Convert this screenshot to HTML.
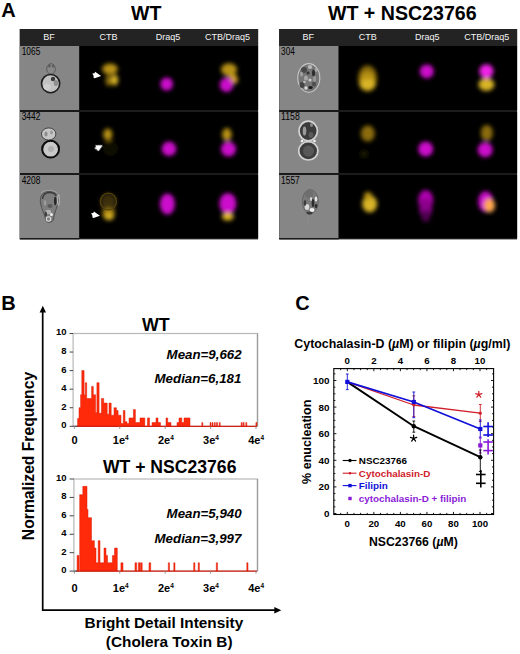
<!DOCTYPE html>
<html><head><meta charset="utf-8"><style>
html,body{margin:0;padding:0;background:#fff;}
svg{display:block;font-family:"Liberation Sans", sans-serif;}
</style></head><body>
<svg width="520" height="654" viewBox="0 0 520 654">
<defs>
<filter id="blur" x="-50%" y="-50%" width="200%" height="200%"><feGaussianBlur stdDeviation="1.9"/></filter>
<filter id="blur3" x="-50%" y="-50%" width="200%" height="200%"><feGaussianBlur stdDeviation="0.45"/></filter>
<filter id="blur2" x="-50%" y="-50%" width="200%" height="200%"><feGaussianBlur stdDeviation="0.7"/></filter>
</defs>
<rect width="520" height="654" fill="#fff"/>
<text x="1.2" y="17.3" font-size="20" font-weight="bold" font-style="normal" text-anchor="start" fill="#000" >A</text>
<text x="146.2" y="20.2" font-size="19.5" font-weight="bold" font-style="normal" text-anchor="middle" fill="#000" >WT</text>
<text x="402.3" y="20.2" font-size="19.6" font-weight="bold" font-style="normal" text-anchor="middle" fill="#000" >WT + NSC23766</text>
<rect x="19.8" y="29" width="238.3" height="210.4" fill="#1c1c1c"/>
<rect x="19.8" y="46" width="59.58" height="193.4" fill="#1a1a1a"/>
<rect x="19.8" y="29" width="238.3" height="17" fill="#232323"/>
<text x="48.89" y="40.3" font-size="9.0" font-weight="normal" font-style="normal" text-anchor="middle" fill="#f4f4f4" >BF</text>
<text x="108.46" y="40.3" font-size="9.0" font-weight="normal" font-style="normal" text-anchor="middle" fill="#f4f4f4" >CTB</text>
<text x="168.04" y="40.3" font-size="9.0" font-weight="normal" font-style="normal" text-anchor="middle" fill="#f4f4f4" >Draq5</text>
<text x="227.61" y="40.3" font-size="9.0" font-weight="normal" font-style="normal" text-anchor="middle" fill="#f4f4f4" >CTB/Draq5</text>
<rect x="19.8" y="46" width="59.58" height="64" fill="#868686"/>
<rect x="79.38" y="46" width="178.73" height="64" fill="#000"/>
<text x="21.7" y="55.2" font-size="10" font-weight="normal" font-style="normal" text-anchor="start" fill="#000" textLength="18.6" lengthAdjust="spacingAndGlyphs">1065</text>
<rect x="19.8" y="112" width="59.58" height="61" fill="#868686"/>
<rect x="79.38" y="112" width="178.73" height="61" fill="#000"/>
<text x="21.7" y="120.0" font-size="10" font-weight="normal" font-style="normal" text-anchor="start" fill="#000" textLength="18.6" lengthAdjust="spacingAndGlyphs">3442</text>
<rect x="19.8" y="175" width="59.58" height="63" fill="#868686"/>
<rect x="79.38" y="175" width="178.73" height="63" fill="#000"/>
<text x="21.7" y="183.5" font-size="10" font-weight="normal" font-style="normal" text-anchor="start" fill="#000" textLength="18.6" lengthAdjust="spacingAndGlyphs">4208</text>
<rect x="279.2" y="29" width="237.90000000000003" height="210.4" fill="#1c1c1c"/>
<rect x="279.2" y="46" width="59.48" height="193.4" fill="#1a1a1a"/>
<rect x="279.2" y="29" width="237.90000000000003" height="17" fill="#232323"/>
<text x="308.24" y="40.3" font-size="9.0" font-weight="normal" font-style="normal" text-anchor="middle" fill="#f4f4f4" >BF</text>
<text x="367.71" y="40.3" font-size="9.0" font-weight="normal" font-style="normal" text-anchor="middle" fill="#f4f4f4" >CTB</text>
<text x="427.19" y="40.3" font-size="9.0" font-weight="normal" font-style="normal" text-anchor="middle" fill="#f4f4f4" >Draq5</text>
<text x="486.66" y="40.3" font-size="9.0" font-weight="normal" font-style="normal" text-anchor="middle" fill="#f4f4f4" >CTB/Draq5</text>
<rect x="279.2" y="46" width="59.48" height="64" fill="#868686"/>
<rect x="338.68" y="46" width="178.43" height="64" fill="#000"/>
<text x="281.09999999999997" y="55.2" font-size="10" font-weight="normal" font-style="normal" text-anchor="start" fill="#000" textLength="13.8" lengthAdjust="spacingAndGlyphs">304</text>
<rect x="279.2" y="112" width="59.48" height="61" fill="#868686"/>
<rect x="338.68" y="112" width="178.43" height="61" fill="#000"/>
<text x="281.09999999999997" y="120.0" font-size="10" font-weight="normal" font-style="normal" text-anchor="start" fill="#000" textLength="18.6" lengthAdjust="spacingAndGlyphs">1158</text>
<rect x="279.2" y="175" width="59.48" height="63" fill="#868686"/>
<rect x="338.68" y="175" width="178.43" height="63" fill="#000"/>
<text x="281.09999999999997" y="183.5" font-size="10" font-weight="normal" font-style="normal" text-anchor="start" fill="#000" textLength="18.6" lengthAdjust="spacingAndGlyphs">1557</text>
<g filter="url(#blur)">
<ellipse cx="110.5" cy="148.5" rx="7.5" ry="7.5" fill="#0e0e06"/>
<ellipse cx="108.4" cy="201.5" rx="8.3" ry="8.6" fill="#3a2e08"/>
<ellipse cx="108.6" cy="208.5" rx="6.5" ry="4.5" fill="#4a3a0a"/>
<ellipse cx="364" cy="154" rx="4.5" ry="4.5" fill="#141200"/>
<ellipse cx="110" cy="69" rx="7.8" ry="5.6" fill="#b89212"/>
<ellipse cx="108.8" cy="80.5" rx="3.4" ry="5.5" fill="#8a6c08"/>
<ellipse cx="114.8" cy="80" rx="3.4" ry="5.5" fill="#d8b426"/>
<ellipse cx="166.7" cy="84" rx="6.3" ry="6.6" fill="#cc0ccc"/>
<ellipse cx="229" cy="69.5" rx="8" ry="6.3" fill="#b89212"/>
<ellipse cx="231.5" cy="75" rx="4" ry="3.5" fill="#b89212"/>
<ellipse cx="234.3" cy="79.5" rx="3.6" ry="4.2" fill="#d0a020"/>
<ellipse cx="226.5" cy="84.8" rx="6.8" ry="7.2" fill="#cc0ccc"/>
<ellipse cx="107.8" cy="134.5" rx="4.5" ry="6" fill="#b89212"/>
<ellipse cx="169" cy="148.8" rx="7.3" ry="7.3" fill="#cc0ccc"/>
<ellipse cx="226.9" cy="134.5" rx="4.8" ry="6.5" fill="#b89212"/>
<ellipse cx="228.5" cy="149" rx="7.5" ry="7.5" fill="#cc0ccc"/>
<ellipse cx="108.6" cy="214.2" rx="6.2" ry="4.8" fill="#b89212"/>
<ellipse cx="109" cy="217.3" rx="4.5" ry="2.8" fill="#d8b426"/>
<ellipse cx="167.4" cy="204" rx="7.5" ry="10.5" fill="#cc0ccc"/>
<ellipse cx="227.8" cy="203.5" rx="8.5" ry="10.5" fill="#cc0ccc"/>
<ellipse cx="227.8" cy="216.5" rx="6" ry="4" fill="#e0b828"/>
<ellipse cx="367.6" cy="78.5" rx="9.5" ry="13" fill="#8a6c08"/>
<ellipse cx="367.6" cy="79" rx="7" ry="7" fill="#b89212"/>
<ellipse cx="367.6" cy="84.5" rx="8" ry="5.5" fill="#d8b426"/>
<ellipse cx="426.8" cy="71.4" rx="7" ry="7" fill="#cc0ccc"/>
<ellipse cx="486.4" cy="84.5" rx="8" ry="6.5" fill="#d8b426"/>
<ellipse cx="486.4" cy="71.2" rx="7" ry="7" fill="#f020e8"/>
<ellipse cx="367.8" cy="133.5" rx="7" ry="8" fill="#8a6c08"/>
<ellipse cx="425.7" cy="149" rx="7.5" ry="7.5" fill="#cc0ccc"/>
<ellipse cx="486.8" cy="133" rx="6" ry="8" fill="#8a6c08"/>
<ellipse cx="485.2" cy="149.7" rx="7.5" ry="7.5" fill="#cc0ccc"/>
<ellipse cx="369.7" cy="204" rx="7.5" ry="8.5" fill="#d8b426"/>
<ellipse cx="368" cy="196" rx="4" ry="4" fill="#b89212"/>
<ellipse cx="425.7" cy="200" rx="7.5" ry="10" fill="#b000b0"/>
<ellipse cx="425.7" cy="208" rx="6.5" ry="10" fill="#8a008a"/>
<ellipse cx="425.7" cy="216" rx="4.5" ry="6" fill="#500050"/>
<ellipse cx="485.7" cy="201.7" rx="7.5" ry="10.5" fill="#cc0ccc"/>
<ellipse cx="489.5" cy="205.5" rx="5.5" ry="7" fill="#ffa850"/>
</g>
<g filter="url(#blur2)"><ellipse cx="108.4" cy="201.5" rx="8" ry="8.3" fill="none" stroke="#52420c" stroke-width="1.3"/></g>
<g transform="translate(100.8,76.1) rotate(0) scale(1.05)" filter="url(#blur3)"><path d="M0.3,0 L-5.4,-4.2 L-6.0,-2.6 L-8.1,-2.4 L-7.0,-0.6 L-6.7,1.7 L-5.8,2.0 Z" fill="#fff"/></g>
<g transform="translate(102.6,145.4) rotate(-37) scale(1.05)" filter="url(#blur3)"><path d="M0.3,0 L-5.4,-4.2 L-6.0,-2.6 L-8.1,-2.4 L-7.0,-0.6 L-6.7,1.7 L-5.8,2.0 Z" fill="#fff"/></g>
<g transform="translate(99.6,215.8) rotate(0) scale(1.05)" filter="url(#blur3)"><path d="M0.3,0 L-5.4,-4.2 L-6.0,-2.6 L-8.1,-2.4 L-7.0,-0.6 L-6.7,1.7 L-5.8,2.0 Z" fill="#fff"/></g>
<g filter="url(#blur2)"><ellipse cx="51" cy="69" rx="4.3" ry="5.3" fill="#888" stroke="#5a5a5a" stroke-width="1"/><ellipse cx="49.5" cy="66" rx="1.2" ry="1.5" fill="#555" stroke="none" stroke-width="1"/><ellipse cx="53" cy="66" rx="1.1" ry="1.5" fill="#5a5a5a" stroke="none" stroke-width="1"/><ellipse cx="50.6" cy="83.6" rx="9.1" ry="9.1" fill="#c2c2c2" stroke="#1c1c1c" stroke-width="1.6"/><ellipse cx="53" cy="79" rx="2.2" ry="2.2" fill="#3a3a3a" stroke="none" stroke-width="1"/><ellipse cx="56" cy="83" rx="2.3" ry="3" fill="#8e8e8e" stroke="none" stroke-width="1"/><ellipse cx="47" cy="87" rx="3.5" ry="3" fill="#d0d0d0" stroke="none" stroke-width="1"/><ellipse cx="48.7" cy="134" rx="7.2" ry="6.1" fill="#c6c6c6" stroke="#3a3a3a" stroke-width="0.9"/><ellipse cx="46" cy="134" rx="1.6" ry="2.5" fill="#8a8a8a" stroke="none" stroke-width="1"/><ellipse cx="51.5" cy="132.5" rx="1.4" ry="2" fill="#999" stroke="none" stroke-width="1"/><ellipse cx="50.6" cy="149.2" rx="8.4" ry="8.4" fill="#c9c9c9" stroke="#080808" stroke-width="2.0"/><ellipse cx="51" cy="149" rx="3" ry="3" fill="#b0b0b0" stroke="none" stroke-width="1"/><path d="M49,191.5 C58,191.5 59.5,199 57.5,205 C56,210 54,214 53.5,219 C53,223 46,224 45.5,219 C45,214 41.5,210 40.5,203 C39.5,196 43,191.5 49,191.5 Z" fill="#7e7e7e" stroke="#4a4a4a" stroke-width="0.9"/><path d="M42.5,199 C43,194 47,192.5 50,192.5 C53,192.5 55,194 56,196" fill="none" stroke="#3a3a3a" stroke-width="1.3"/><path d="M41,193 C44,189.5 54,189.5 57,193" fill="none" stroke="#a8a8a8" stroke-width="0.8"/><ellipse cx="55.3" cy="201" rx="1.3" ry="4.2" fill="#262626" stroke="none" stroke-width="1"/><ellipse cx="58.4" cy="200" rx="0.9" ry="5.5" fill="none" stroke="#c8c8c8" stroke-width="0.8"/><ellipse cx="48.5" cy="219" rx="2.2" ry="2.2" fill="none" stroke="#dedede" stroke-width="1.1"/><ellipse cx="48.3" cy="212" rx="2.8" ry="2.2" fill="#b4b4b4" stroke="none" stroke-width="1"/><ellipse cx="50" cy="206" rx="2.6" ry="2" fill="#5a5a5a" stroke="none" stroke-width="1"/><ellipse cx="45" cy="203" rx="1.2" ry="3" fill="#9c9c9c" stroke="none" stroke-width="1"/><ellipse cx="51.5" cy="214.5" rx="1.5" ry="1.5" fill="#f0f0f0" stroke="none" stroke-width="1"/><ellipse cx="45.8" cy="214" rx="1.2" ry="2.5" fill="#3c3c3c" stroke="none" stroke-width="1"/><ellipse cx="308.8" cy="77.9" rx="11" ry="14.3" fill="#767676" stroke="#c8c8c8" stroke-width="1.1"/><ellipse cx="304" cy="70" rx="3" ry="3" fill="#4a4a4a" stroke="none" stroke-width="1"/><ellipse cx="310" cy="67" rx="2.2" ry="2" fill="#b8b8b8" stroke="none" stroke-width="1"/><ellipse cx="313.5" cy="73" rx="1.5" ry="3.5" fill="#2e2e2e" stroke="none" stroke-width="1"/><ellipse cx="306" cy="78" rx="2" ry="2.5" fill="#a8a8a8" stroke="none" stroke-width="1"/><ellipse cx="302" cy="85" rx="2.5" ry="3" fill="#444" stroke="none" stroke-width="1"/><ellipse cx="310" cy="80" rx="1.6" ry="1.6" fill="#c8c8c8" stroke="none" stroke-width="1"/><ellipse cx="314" cy="84" rx="2" ry="2.5" fill="#4e4e4e" stroke="none" stroke-width="1"/><ellipse cx="301.5" cy="74" rx="1.5" ry="2.5" fill="#a0a0a0" stroke="none" stroke-width="1"/><ellipse cx="306" cy="88" rx="1.7" ry="1.7" fill="#d8d8d8" stroke="none" stroke-width="1"/><ellipse cx="310.5" cy="87.5" rx="2.3" ry="1.6" fill="#1a1a1a" stroke="none" stroke-width="1"/><ellipse cx="314.5" cy="79" rx="1.5" ry="3" fill="#999" stroke="none" stroke-width="1"/><ellipse cx="308" cy="73" rx="1.5" ry="1.5" fill="#333" stroke="none" stroke-width="1"/><ellipse cx="316" cy="70" rx="1.2" ry="2" fill="#aaa" stroke="none" stroke-width="1"/><ellipse cx="304.5" cy="82" rx="1.3" ry="1.3" fill="#bbb" stroke="none" stroke-width="1"/><ellipse cx="308.2" cy="131" rx="9.2" ry="9.8" fill="#3a3a3a" stroke="#d4d4d4" stroke-width="1.7"/><ellipse cx="304.5" cy="131" rx="1.8" ry="4.5" fill="#9a9a9a" stroke="none" stroke-width="1"/><ellipse cx="311.5" cy="125" rx="1.5" ry="2" fill="#8a8a8a" stroke="none" stroke-width="1"/><ellipse cx="311" cy="135" rx="2.5" ry="3" fill="#5a5a5a" stroke="none" stroke-width="1"/><ellipse cx="308.3" cy="150.8" rx="9.6" ry="9.2" fill="#3e3e3e" stroke="#d4d4d4" stroke-width="1.7"/><ellipse cx="308.5" cy="151" rx="5.5" ry="5.5" fill="#585858" stroke="none" stroke-width="1"/><ellipse cx="302" cy="141" rx="1.3" ry="1.3" fill="#f0f0f0" stroke="none" stroke-width="1"/><ellipse cx="314.5" cy="141" rx="1.3" ry="1.3" fill="#f0f0f0" stroke="none" stroke-width="1"/><ellipse cx="310.3" cy="201.5" rx="8" ry="12" fill="#7a7a7a" stroke="#5e5e5e" stroke-width="0.8"/><ellipse cx="309" cy="194" rx="4" ry="4" fill="#6e6e6e" stroke="none" stroke-width="1"/><ellipse cx="313" cy="203" rx="1.3" ry="4" fill="#2a2a2a" stroke="none" stroke-width="1"/><ellipse cx="316" cy="199" rx="1.3" ry="2.5" fill="#e8e8e8" stroke="none" stroke-width="1"/><ellipse cx="311" cy="199" rx="1" ry="2" fill="#dcdcdc" stroke="none" stroke-width="1"/><ellipse cx="307" cy="207" rx="2.3" ry="3" fill="#d8d8d8" stroke="none" stroke-width="1"/><ellipse cx="312" cy="210" rx="2.5" ry="2" fill="#f0f0f0" stroke="none" stroke-width="1"/><ellipse cx="316" cy="206" rx="1.4" ry="2" fill="#2a2a2a" stroke="none" stroke-width="1"/><ellipse cx="305" cy="203" rx="1.3" ry="3" fill="#3a3a3a" stroke="none" stroke-width="1"/><ellipse cx="309.5" cy="213" rx="3" ry="1.5" fill="#3a3a3a" stroke="none" stroke-width="1"/><path d="M307.5,214 L309,226" stroke="#8e8e8e" stroke-width="0.7"/></g>
<text x="1.3" y="310.2" font-size="20" font-weight="bold" font-style="normal" text-anchor="start" fill="#000" >B</text>
<path d="M42.7,311 L42.7,610.2 L275,610.2" fill="none" stroke="#000" stroke-width="1.7"/>
<path d="M42.8,305.8 L39.6,312.4 L46,312.4 Z" fill="#000"/>
<path d="M281.3,610.3 L274.3,607.1 L274.3,613.5 Z" fill="#000"/>
<text x="0" y="0" font-size="15.7" font-weight="bold" font-style="normal" text-anchor="middle" fill="#000" transform="translate(34.3,456) rotate(-90)">Normalized Frequency</text>
<text x="163.9" y="628" font-size="15.35" font-weight="bold" font-style="normal" text-anchor="middle" fill="#000" >Bright Detail Intensity</text>
<text x="169.2" y="647.4" font-size="15.35" font-weight="bold" font-style="normal" text-anchor="middle" fill="#000" >(Cholera Toxin B)</text>
<rect x="73.1" y="333.5" width="184.4" height="92.80000000000001" fill="none" stroke="#b8b8b8" stroke-width="1.2"/><line x1="257.5" y1="333.5" x2="257.5" y2="426.3" stroke="#9a9a9a" stroke-width="1.3"/>
<path d="M77.6,426.3 L77.6,418.41 L79,418.41 L79,407.74 L80.6,407.74 L80.6,394.75 L81.8,394.75 L81.8,370.62 L84.1,370.62 L84.1,394.75 L85.3,394.75 L85.3,382.68 L86.7,382.68 L86.7,398.46 L91.6,398.46 L91.6,386.40 L93.3,386.40 L93.3,394.75 L95.6,394.75 L95.6,412.38 L96.9,412.38 L96.9,382.68 L99.1,382.68 L99.1,413.31 L101.4,413.31 L101.4,398.46 L103.7,398.46 L103.7,403.10 L105.4,403.10 L105.4,403.10 L107.2,403.10 L107.2,414.24 L109,414.24 L109,403.10 L111.2,403.10 L111.2,415.16 L114,415.16 L114,407.74 L116.4,407.74 L116.4,410.52 L118.1,410.52 L118.1,415.16 L121,415.16 L121,423.52 L123.3,423.52 L123.3,410.52 L125,410.52 L125,421.66 L127,421.66 L127,423.52 L129,423.52 L129,417.95 L130.7,417.95 L130.7,417.95 L133.4,417.95 L133.4,409.60 L135.4,409.60 L135.4,422.59 L140,422.59 L140,417.95 L144.8,417.95 L144.8,426.3 Z" fill="#ff2a0a" stroke="#d81c08" stroke-width="0.5"/>
<path d="M147.5,426.3 L147.5,417.95 L149.5,417.95 L149.5,426.3 Z" fill="#ff2a0a" stroke="#d81c08" stroke-width="0.5"/>
<path d="M152,426.3 L152,422.59 L156,422.59 L156,417.95 L158,417.95 L158,422.59 L160.5,422.59 L160.5,426.3 Z" fill="#ff2a0a" stroke="#d81c08" stroke-width="0.5"/>
<path d="M166,426.3 L166,417.95 L167.7,417.95 L167.7,422.59 L171,422.59 L171,426.3 Z" fill="#ff2a0a" stroke="#d81c08" stroke-width="0.5"/>
<path d="M177,426.3 L177,422.59 L179,422.59 L179,417.95 L181.8,417.95 L181.8,422.59 L184,422.59 L184,417.95 L190,417.95 L190,426.3 Z" fill="#ff2a0a" stroke="#d81c08" stroke-width="0.5"/>
<path d="M201.8,426.3 L201.8,422.59 L202.8,422.59 L202.8,426.3 Z" fill="#ff2a0a" stroke="#d81c08" stroke-width="0.5"/>
<path d="M210,426.3 L210,422.59 L211,422.59 L211,426.3 Z" fill="#ff2a0a" stroke="#d81c08" stroke-width="0.5"/>
<path d="M212,426.3 L212,422.59 L213,422.59 L213,426.3 Z" fill="#ff2a0a" stroke="#d81c08" stroke-width="0.5"/>
<path d="M214.3,426.3 L214.3,422.59 L215.3,422.59 L215.3,426.3 Z" fill="#ff2a0a" stroke="#d81c08" stroke-width="0.5"/>
<path d="M216.5,426.3 L216.5,422.59 L217.5,422.59 L217.5,426.3 Z" fill="#ff2a0a" stroke="#d81c08" stroke-width="0.5"/>
<path d="M219.2,426.3 L219.2,422.59 L220.2,422.59 L220.2,426.3 Z" fill="#ff2a0a" stroke="#d81c08" stroke-width="0.5"/>
<path d="M241.2,426.3 L241.2,422.59 L242.2,422.59 L242.2,426.3 Z" fill="#ff2a0a" stroke="#d81c08" stroke-width="0.5"/>
<path d="M243.1,426.3 L243.1,422.59 L244.1,422.59 L244.1,426.3 Z" fill="#ff2a0a" stroke="#d81c08" stroke-width="0.5"/>
<path d="M245.8,426.3 L245.8,422.59 L246.8,422.59 L246.8,426.3 Z" fill="#ff2a0a" stroke="#d81c08" stroke-width="0.5"/>
<path d="M255.9,426.3 L255.9,422.59 L256.9,422.59 L256.9,426.3 Z" fill="#ff2a0a" stroke="#d81c08" stroke-width="0.5"/>
<line x1="76" y1="426.3" x2="257" y2="426.3" stroke="#d42010" stroke-width="1.2"/>
<line x1="73.1" y1="426.3" x2="77.5" y2="426.3" stroke="#555" stroke-width="1.2"/>
<line x1="69.6" y1="426.30" x2="73.1" y2="426.30" stroke="#444" stroke-width="1"/>
<text x="66.6" y="428.2" font-size="9.5" font-weight="bold" font-style="normal" text-anchor="end" fill="#000" >0</text>
<line x1="69.6" y1="407.74" x2="73.1" y2="407.74" stroke="#444" stroke-width="1"/>
<text x="66.6" y="409.64" font-size="9.5" font-weight="bold" font-style="normal" text-anchor="end" fill="#000" >2</text>
<line x1="69.6" y1="389.18" x2="73.1" y2="389.18" stroke="#444" stroke-width="1"/>
<text x="66.6" y="391.08" font-size="9.5" font-weight="bold" font-style="normal" text-anchor="end" fill="#000" >4</text>
<line x1="69.6" y1="370.62" x2="73.1" y2="370.62" stroke="#444" stroke-width="1"/>
<text x="66.6" y="372.52" font-size="9.5" font-weight="bold" font-style="normal" text-anchor="end" fill="#000" >6</text>
<line x1="69.6" y1="352.06" x2="73.1" y2="352.06" stroke="#444" stroke-width="1"/>
<text x="66.6" y="353.96" font-size="9.5" font-weight="bold" font-style="normal" text-anchor="end" fill="#000" >8</text>
<line x1="69.6" y1="333.50" x2="73.1" y2="333.50" stroke="#444" stroke-width="1"/>
<text x="66.6" y="335.4" font-size="9.5" font-weight="bold" font-style="normal" text-anchor="end" fill="#000" >10</text>
<text x="74.6" y="444.3" font-size="11" font-weight="bold" font-style="normal" text-anchor="middle" fill="#000" >0</text>
<line x1="74.40" y1="426.3" x2="74.40" y2="428.90000000000003" stroke="#888" stroke-width="0.9"/>
<text x="120.75" y="444.3" font-size="11" font-weight="bold" font-style="normal" text-anchor="middle" fill="#000" >1e<tspan font-size="6.5" dy="-4.2">4</tspan></text>
<line x1="119.80" y1="426.3" x2="119.80" y2="428.90000000000003" stroke="#888" stroke-width="0.9"/>
<text x="165.9" y="444.3" font-size="11" font-weight="bold" font-style="normal" text-anchor="middle" fill="#000" >2e<tspan font-size="6.5" dy="-4.2">4</tspan></text>
<line x1="165.20" y1="426.3" x2="165.20" y2="428.90000000000003" stroke="#888" stroke-width="0.9"/>
<text x="211.05" y="444.3" font-size="11" font-weight="bold" font-style="normal" text-anchor="middle" fill="#000" >3e<tspan font-size="6.5" dy="-4.2">4</tspan></text>
<line x1="210.60" y1="426.3" x2="210.60" y2="428.90000000000003" stroke="#888" stroke-width="0.9"/>
<text x="256.2" y="444.3" font-size="11" font-weight="bold" font-style="normal" text-anchor="middle" fill="#000" >4e<tspan font-size="6.5" dy="-4.2">4</tspan></text>
<line x1="256.00" y1="426.3" x2="256.00" y2="428.90000000000003" stroke="#888" stroke-width="0.9"/>
<text x="155.8" y="330.5" font-size="17.8" font-weight="bold" font-style="normal" text-anchor="middle" fill="#000" >WT</text>
<text x="241.6" y="358.8" font-size="13.3" font-weight="bold" font-style="italic" text-anchor="end" fill="#000" >Mean=9,662</text>
<text x="241.4" y="382.8" font-size="13.3" font-weight="bold" font-style="italic" text-anchor="end" fill="#000" >Median=6,181</text>
<rect x="73.9" y="479" width="183.6" height="92.10000000000002" fill="none" stroke="#b8b8b8" stroke-width="1.2"/><line x1="257.5" y1="479" x2="257.5" y2="571.1" stroke="#9a9a9a" stroke-width="1.3"/>
<path d="M77.1,571.1 L77.1,555.44 L79,555.44 L79,571.1 Z" fill="#ff2a0a" stroke="#d81c08" stroke-width="0.5"/>
<path d="M79.7,571.1 L79.7,494.66 L82.8,494.66 L82.8,486.37 L87,486.37 L87,509.39 L88,509.39 L88,517.68 L91.5,517.68 L91.5,540.71 L92.5,540.71 L92.5,540.71 L94.4,540.71 L94.4,548.08 L96,548.08 L96,562.81 L98.2,562.81 L98.2,540.71 L100,540.71 L100,562.81 L104,562.81 L104,548.08 L106,548.08 L106,555.44 L107.5,555.44 L107.5,562.81 L112.4,562.81 L112.4,555.44 L114.5,555.44 L114.5,548.08 L117.3,548.08 L117.3,571.1 Z" fill="#ff2a0a" stroke="#d81c08" stroke-width="0.5"/>
<path d="M120.9,571.1 L120.9,562.81 L123,562.81 L123,571.1 Z" fill="#ff2a0a" stroke="#d81c08" stroke-width="0.5"/>
<path d="M135,571.1 L135,562.81 L136.7,562.81 L136.7,571.1 Z" fill="#ff2a0a" stroke="#d81c08" stroke-width="0.5"/>
<path d="M138.4,571.1 L138.4,562.81 L140,562.81 L140,571.1 Z" fill="#ff2a0a" stroke="#d81c08" stroke-width="0.5"/>
<path d="M140.5,571.1 L140.5,562.81 L142.2,562.81 L142.2,571.1 Z" fill="#ff2a0a" stroke="#d81c08" stroke-width="0.5"/>
<path d="M149,571.1 L149,562.81 L150.7,562.81 L150.7,571.1 Z" fill="#ff2a0a" stroke="#d81c08" stroke-width="0.5"/>
<path d="M168.3,571.1 L168.3,562.81 L169.5,562.81 L169.5,571.1 Z" fill="#ff2a0a" stroke="#d81c08" stroke-width="0.5"/>
<path d="M173.8,571.1 L173.8,562.81 L175,562.81 L175,571.1 Z" fill="#ff2a0a" stroke="#d81c08" stroke-width="0.5"/>
<path d="M193.7,571.1 L193.7,562.81 L194.9,562.81 L194.9,571.1 Z" fill="#ff2a0a" stroke="#d81c08" stroke-width="0.5"/>
<path d="M198.2,571.1 L198.2,562.81 L199.4,562.81 L199.4,571.1 Z" fill="#ff2a0a" stroke="#d81c08" stroke-width="0.5"/>
<path d="M216.3,571.1 L216.3,562.81 L217.5,562.81 L217.5,571.1 Z" fill="#ff2a0a" stroke="#d81c08" stroke-width="0.5"/>
<path d="M246.8,571.1 L246.8,562.81 L248,562.81 L248,571.1 Z" fill="#ff2a0a" stroke="#d81c08" stroke-width="0.5"/>
<line x1="76" y1="571.1" x2="257" y2="571.1" stroke="#d42010" stroke-width="1.2"/>
<line x1="73.9" y1="571.1" x2="77.5" y2="571.1" stroke="#555" stroke-width="1.2"/>
<line x1="69.6" y1="571.10" x2="73.9" y2="571.10" stroke="#444" stroke-width="1"/>
<text x="66.6" y="573.0" font-size="9.5" font-weight="bold" font-style="normal" text-anchor="end" fill="#000" >0</text>
<line x1="69.6" y1="552.68" x2="73.9" y2="552.68" stroke="#444" stroke-width="1"/>
<text x="66.6" y="554.58" font-size="9.5" font-weight="bold" font-style="normal" text-anchor="end" fill="#000" >2</text>
<line x1="69.6" y1="534.26" x2="73.9" y2="534.26" stroke="#444" stroke-width="1"/>
<text x="66.6" y="536.16" font-size="9.5" font-weight="bold" font-style="normal" text-anchor="end" fill="#000" >4</text>
<line x1="69.6" y1="515.84" x2="73.9" y2="515.84" stroke="#444" stroke-width="1"/>
<text x="66.6" y="517.74" font-size="9.5" font-weight="bold" font-style="normal" text-anchor="end" fill="#000" >6</text>
<line x1="69.6" y1="497.42" x2="73.9" y2="497.42" stroke="#444" stroke-width="1"/>
<text x="66.6" y="499.32" font-size="9.5" font-weight="bold" font-style="normal" text-anchor="end" fill="#000" >8</text>
<line x1="69.6" y1="479.00" x2="73.9" y2="479.00" stroke="#444" stroke-width="1"/>
<text x="66.6" y="480.9" font-size="9.5" font-weight="bold" font-style="normal" text-anchor="end" fill="#000" >10</text>
<text x="74.6" y="592.1" font-size="11" font-weight="bold" font-style="normal" text-anchor="middle" fill="#000" >0</text>
<line x1="74.40" y1="571.1" x2="74.40" y2="573.7" stroke="#888" stroke-width="0.9"/>
<text x="120.75" y="592.1" font-size="11" font-weight="bold" font-style="normal" text-anchor="middle" fill="#000" >1e<tspan font-size="6.5" dy="-4.2">4</tspan></text>
<line x1="119.80" y1="571.1" x2="119.80" y2="573.7" stroke="#888" stroke-width="0.9"/>
<text x="165.9" y="592.1" font-size="11" font-weight="bold" font-style="normal" text-anchor="middle" fill="#000" >2e<tspan font-size="6.5" dy="-4.2">4</tspan></text>
<line x1="165.20" y1="571.1" x2="165.20" y2="573.7" stroke="#888" stroke-width="0.9"/>
<text x="211.05" y="592.1" font-size="11" font-weight="bold" font-style="normal" text-anchor="middle" fill="#000" >3e<tspan font-size="6.5" dy="-4.2">4</tspan></text>
<line x1="210.60" y1="571.1" x2="210.60" y2="573.7" stroke="#888" stroke-width="0.9"/>
<text x="256.2" y="592.1" font-size="11" font-weight="bold" font-style="normal" text-anchor="middle" fill="#000" >4e<tspan font-size="6.5" dy="-4.2">4</tspan></text>
<line x1="256.00" y1="571.1" x2="256.00" y2="573.7" stroke="#888" stroke-width="0.9"/>
<text x="169.7" y="473" font-size="17.6" font-weight="bold" font-style="normal" text-anchor="middle" fill="#000" >WT + NSC23766</text>
<text x="241.6" y="518.3" font-size="13.3" font-weight="bold" font-style="italic" text-anchor="end" fill="#000" >Mean=5,940</text>
<text x="241.4" y="543.3" font-size="13.3" font-weight="bold" font-style="italic" text-anchor="end" fill="#000" >Median=3,997</text>
<text x="295.2" y="310.2" font-size="20" font-weight="bold" font-style="normal" text-anchor="start" fill="#000" >C</text>
<text x="294.3" y="348.3" font-size="12.4" font-weight="bold" font-style="normal" text-anchor="start" fill="#000" >Cytochalasin-D (<tspan font-style="italic">µ</tspan>M) or filipin (<tspan font-style="italic">µ</tspan>g/ml)</text>
<text x="0" y="0" font-size="12.55" font-weight="bold" font-style="normal" text-anchor="middle" fill="#000" transform="translate(311.4,441.8) rotate(-90)">% enucleation</text>
<text x="413.4" y="545.8" font-size="12.25" font-weight="bold" font-style="normal" text-anchor="middle" fill="#000" >NSC23766 (<tspan font-style="italic">µ</tspan>M)</text>
<rect x="333.8" y="368.6" width="159.8" height="145.89999999999998" fill="none" stroke="#000" stroke-width="1.1"/>
<line x1="333.8" y1="513.50" x2="336.40000000000003" y2="513.50" stroke="#000" stroke-width="0.9"/>
<line x1="493.6" y1="513.50" x2="491.0" y2="513.50" stroke="#000" stroke-width="0.9"/>
<line x1="333.8" y1="506.85" x2="335.40000000000003" y2="506.85" stroke="#000" stroke-width="0.9"/>
<line x1="493.6" y1="506.85" x2="492.0" y2="506.85" stroke="#000" stroke-width="0.9"/>
<line x1="333.8" y1="500.20" x2="335.40000000000003" y2="500.20" stroke="#000" stroke-width="0.9"/>
<line x1="493.6" y1="500.20" x2="492.0" y2="500.20" stroke="#000" stroke-width="0.9"/>
<line x1="333.8" y1="493.55" x2="335.40000000000003" y2="493.55" stroke="#000" stroke-width="0.9"/>
<line x1="493.6" y1="493.55" x2="492.0" y2="493.55" stroke="#000" stroke-width="0.9"/>
<line x1="333.8" y1="486.90" x2="336.40000000000003" y2="486.90" stroke="#000" stroke-width="0.9"/>
<line x1="493.6" y1="486.90" x2="491.0" y2="486.90" stroke="#000" stroke-width="0.9"/>
<line x1="333.8" y1="480.25" x2="335.40000000000003" y2="480.25" stroke="#000" stroke-width="0.9"/>
<line x1="493.6" y1="480.25" x2="492.0" y2="480.25" stroke="#000" stroke-width="0.9"/>
<line x1="333.8" y1="473.60" x2="335.40000000000003" y2="473.60" stroke="#000" stroke-width="0.9"/>
<line x1="493.6" y1="473.60" x2="492.0" y2="473.60" stroke="#000" stroke-width="0.9"/>
<line x1="333.8" y1="466.95" x2="335.40000000000003" y2="466.95" stroke="#000" stroke-width="0.9"/>
<line x1="493.6" y1="466.95" x2="492.0" y2="466.95" stroke="#000" stroke-width="0.9"/>
<line x1="333.8" y1="460.30" x2="336.40000000000003" y2="460.30" stroke="#000" stroke-width="0.9"/>
<line x1="493.6" y1="460.30" x2="491.0" y2="460.30" stroke="#000" stroke-width="0.9"/>
<line x1="333.8" y1="453.65" x2="335.40000000000003" y2="453.65" stroke="#000" stroke-width="0.9"/>
<line x1="493.6" y1="453.65" x2="492.0" y2="453.65" stroke="#000" stroke-width="0.9"/>
<line x1="333.8" y1="447.00" x2="335.40000000000003" y2="447.00" stroke="#000" stroke-width="0.9"/>
<line x1="493.6" y1="447.00" x2="492.0" y2="447.00" stroke="#000" stroke-width="0.9"/>
<line x1="333.8" y1="440.35" x2="335.40000000000003" y2="440.35" stroke="#000" stroke-width="0.9"/>
<line x1="493.6" y1="440.35" x2="492.0" y2="440.35" stroke="#000" stroke-width="0.9"/>
<line x1="333.8" y1="433.70" x2="336.40000000000003" y2="433.70" stroke="#000" stroke-width="0.9"/>
<line x1="493.6" y1="433.70" x2="491.0" y2="433.70" stroke="#000" stroke-width="0.9"/>
<line x1="333.8" y1="427.05" x2="335.40000000000003" y2="427.05" stroke="#000" stroke-width="0.9"/>
<line x1="493.6" y1="427.05" x2="492.0" y2="427.05" stroke="#000" stroke-width="0.9"/>
<line x1="333.8" y1="420.40" x2="335.40000000000003" y2="420.40" stroke="#000" stroke-width="0.9"/>
<line x1="493.6" y1="420.40" x2="492.0" y2="420.40" stroke="#000" stroke-width="0.9"/>
<line x1="333.8" y1="413.75" x2="335.40000000000003" y2="413.75" stroke="#000" stroke-width="0.9"/>
<line x1="493.6" y1="413.75" x2="492.0" y2="413.75" stroke="#000" stroke-width="0.9"/>
<line x1="333.8" y1="407.10" x2="336.40000000000003" y2="407.10" stroke="#000" stroke-width="0.9"/>
<line x1="493.6" y1="407.10" x2="491.0" y2="407.10" stroke="#000" stroke-width="0.9"/>
<line x1="333.8" y1="400.45" x2="335.40000000000003" y2="400.45" stroke="#000" stroke-width="0.9"/>
<line x1="493.6" y1="400.45" x2="492.0" y2="400.45" stroke="#000" stroke-width="0.9"/>
<line x1="333.8" y1="393.80" x2="335.40000000000003" y2="393.80" stroke="#000" stroke-width="0.9"/>
<line x1="493.6" y1="393.80" x2="492.0" y2="393.80" stroke="#000" stroke-width="0.9"/>
<line x1="333.8" y1="387.15" x2="335.40000000000003" y2="387.15" stroke="#000" stroke-width="0.9"/>
<line x1="493.6" y1="387.15" x2="492.0" y2="387.15" stroke="#000" stroke-width="0.9"/>
<line x1="333.8" y1="380.50" x2="336.40000000000003" y2="380.50" stroke="#000" stroke-width="0.9"/>
<line x1="493.6" y1="380.50" x2="491.0" y2="380.50" stroke="#000" stroke-width="0.9"/>
<line x1="333.8" y1="373.85" x2="335.40000000000003" y2="373.85" stroke="#000" stroke-width="0.9"/>
<line x1="493.6" y1="373.85" x2="492.0" y2="373.85" stroke="#000" stroke-width="0.9"/>
<line x1="340.67" y1="514.5" x2="340.67" y2="512.9" stroke="#000" stroke-width="0.9"/>
<line x1="340.67" y1="368.6" x2="340.67" y2="370.20000000000005" stroke="#000" stroke-width="0.9"/>
<line x1="347.30" y1="514.5" x2="347.30" y2="511.9" stroke="#000" stroke-width="0.9"/>
<line x1="347.30" y1="368.6" x2="347.30" y2="371.20000000000005" stroke="#000" stroke-width="0.9"/>
<line x1="353.94" y1="514.5" x2="353.94" y2="512.9" stroke="#000" stroke-width="0.9"/>
<line x1="353.94" y1="368.6" x2="353.94" y2="370.20000000000005" stroke="#000" stroke-width="0.9"/>
<line x1="360.57" y1="514.5" x2="360.57" y2="512.9" stroke="#000" stroke-width="0.9"/>
<line x1="360.57" y1="368.6" x2="360.57" y2="370.20000000000005" stroke="#000" stroke-width="0.9"/>
<line x1="367.21" y1="514.5" x2="367.21" y2="512.9" stroke="#000" stroke-width="0.9"/>
<line x1="367.21" y1="368.6" x2="367.21" y2="370.20000000000005" stroke="#000" stroke-width="0.9"/>
<line x1="373.84" y1="514.5" x2="373.84" y2="511.9" stroke="#000" stroke-width="0.9"/>
<line x1="373.84" y1="368.6" x2="373.84" y2="371.20000000000005" stroke="#000" stroke-width="0.9"/>
<line x1="380.48" y1="514.5" x2="380.48" y2="512.9" stroke="#000" stroke-width="0.9"/>
<line x1="380.48" y1="368.6" x2="380.48" y2="370.20000000000005" stroke="#000" stroke-width="0.9"/>
<line x1="387.11" y1="514.5" x2="387.11" y2="512.9" stroke="#000" stroke-width="0.9"/>
<line x1="387.11" y1="368.6" x2="387.11" y2="370.20000000000005" stroke="#000" stroke-width="0.9"/>
<line x1="393.75" y1="514.5" x2="393.75" y2="512.9" stroke="#000" stroke-width="0.9"/>
<line x1="393.75" y1="368.6" x2="393.75" y2="370.20000000000005" stroke="#000" stroke-width="0.9"/>
<line x1="400.38" y1="514.5" x2="400.38" y2="511.9" stroke="#000" stroke-width="0.9"/>
<line x1="400.38" y1="368.6" x2="400.38" y2="371.20000000000005" stroke="#000" stroke-width="0.9"/>
<line x1="407.01" y1="514.5" x2="407.01" y2="512.9" stroke="#000" stroke-width="0.9"/>
<line x1="407.01" y1="368.6" x2="407.01" y2="370.20000000000005" stroke="#000" stroke-width="0.9"/>
<line x1="413.65" y1="514.5" x2="413.65" y2="512.9" stroke="#000" stroke-width="0.9"/>
<line x1="413.65" y1="368.6" x2="413.65" y2="370.20000000000005" stroke="#000" stroke-width="0.9"/>
<line x1="420.29" y1="514.5" x2="420.29" y2="512.9" stroke="#000" stroke-width="0.9"/>
<line x1="420.29" y1="368.6" x2="420.29" y2="370.20000000000005" stroke="#000" stroke-width="0.9"/>
<line x1="426.92" y1="514.5" x2="426.92" y2="511.9" stroke="#000" stroke-width="0.9"/>
<line x1="426.92" y1="368.6" x2="426.92" y2="371.20000000000005" stroke="#000" stroke-width="0.9"/>
<line x1="433.56" y1="514.5" x2="433.56" y2="512.9" stroke="#000" stroke-width="0.9"/>
<line x1="433.56" y1="368.6" x2="433.56" y2="370.20000000000005" stroke="#000" stroke-width="0.9"/>
<line x1="440.19" y1="514.5" x2="440.19" y2="512.9" stroke="#000" stroke-width="0.9"/>
<line x1="440.19" y1="368.6" x2="440.19" y2="370.20000000000005" stroke="#000" stroke-width="0.9"/>
<line x1="446.82" y1="514.5" x2="446.82" y2="512.9" stroke="#000" stroke-width="0.9"/>
<line x1="446.82" y1="368.6" x2="446.82" y2="370.20000000000005" stroke="#000" stroke-width="0.9"/>
<line x1="453.46" y1="514.5" x2="453.46" y2="511.9" stroke="#000" stroke-width="0.9"/>
<line x1="453.46" y1="368.6" x2="453.46" y2="371.20000000000005" stroke="#000" stroke-width="0.9"/>
<line x1="460.10" y1="514.5" x2="460.10" y2="512.9" stroke="#000" stroke-width="0.9"/>
<line x1="460.10" y1="368.6" x2="460.10" y2="370.20000000000005" stroke="#000" stroke-width="0.9"/>
<line x1="466.73" y1="514.5" x2="466.73" y2="512.9" stroke="#000" stroke-width="0.9"/>
<line x1="466.73" y1="368.6" x2="466.73" y2="370.20000000000005" stroke="#000" stroke-width="0.9"/>
<line x1="473.37" y1="514.5" x2="473.37" y2="512.9" stroke="#000" stroke-width="0.9"/>
<line x1="473.37" y1="368.6" x2="473.37" y2="370.20000000000005" stroke="#000" stroke-width="0.9"/>
<line x1="480.00" y1="514.5" x2="480.00" y2="511.9" stroke="#000" stroke-width="0.9"/>
<line x1="480.00" y1="368.6" x2="480.00" y2="371.20000000000005" stroke="#000" stroke-width="0.9"/>
<line x1="486.63" y1="514.5" x2="486.63" y2="512.9" stroke="#000" stroke-width="0.9"/>
<line x1="486.63" y1="368.6" x2="486.63" y2="370.20000000000005" stroke="#000" stroke-width="0.9"/>
<text x="329.4" y="516.9" font-size="9.9" font-weight="bold" font-style="normal" text-anchor="end" fill="#000" >0</text>
<text x="347.3" y="527" font-size="9.7" font-weight="bold" font-style="normal" text-anchor="middle" fill="#000" >0</text>
<text x="329.4" y="490.3" font-size="9.9" font-weight="bold" font-style="normal" text-anchor="end" fill="#000" >20</text>
<text x="373.84" y="527" font-size="9.7" font-weight="bold" font-style="normal" text-anchor="middle" fill="#000" >20</text>
<text x="329.4" y="463.7" font-size="9.9" font-weight="bold" font-style="normal" text-anchor="end" fill="#000" >40</text>
<text x="400.38" y="527" font-size="9.7" font-weight="bold" font-style="normal" text-anchor="middle" fill="#000" >40</text>
<text x="329.4" y="437.1" font-size="9.9" font-weight="bold" font-style="normal" text-anchor="end" fill="#000" >60</text>
<text x="426.92" y="527" font-size="9.7" font-weight="bold" font-style="normal" text-anchor="middle" fill="#000" >60</text>
<text x="329.4" y="410.5" font-size="9.9" font-weight="bold" font-style="normal" text-anchor="end" fill="#000" >80</text>
<text x="453.46" y="527" font-size="9.7" font-weight="bold" font-style="normal" text-anchor="middle" fill="#000" >80</text>
<text x="329.4" y="383.9" font-size="9.9" font-weight="bold" font-style="normal" text-anchor="end" fill="#000" >100</text>
<text x="480.0" y="527" font-size="9.7" font-weight="bold" font-style="normal" text-anchor="middle" fill="#000" >100</text>
<text x="347.3" y="364.2" font-size="9.7" font-weight="bold" font-style="normal" text-anchor="middle" fill="#000" >0</text>
<text x="373.84" y="364.2" font-size="9.7" font-weight="bold" font-style="normal" text-anchor="middle" fill="#000" >2</text>
<text x="400.38" y="364.2" font-size="9.7" font-weight="bold" font-style="normal" text-anchor="middle" fill="#000" >4</text>
<text x="426.92" y="364.2" font-size="9.7" font-weight="bold" font-style="normal" text-anchor="middle" fill="#000" >6</text>
<text x="453.46" y="364.2" font-size="9.7" font-weight="bold" font-style="normal" text-anchor="middle" fill="#000" >8</text>
<text x="480.0" y="364.2" font-size="9.7" font-weight="bold" font-style="normal" text-anchor="middle" fill="#000" >10</text>
<line x1="413.80" y1="421.00" x2="413.80" y2="432.20" stroke="#000" stroke-width="0.9"/><line x1="412.40" y1="421.00" x2="415.20" y2="421.00" stroke="#000" stroke-width="0.9"/><line x1="412.40" y1="432.20" x2="415.20" y2="432.20" stroke="#000" stroke-width="0.9"/>
<line x1="413.80" y1="395.80" x2="413.80" y2="416.50" stroke="#d0202a" stroke-width="0.9"/><line x1="412.40" y1="395.80" x2="415.20" y2="395.80" stroke="#d0202a" stroke-width="0.9"/><line x1="412.40" y1="416.50" x2="415.20" y2="416.50" stroke="#d0202a" stroke-width="0.9"/>
<line x1="413.80" y1="392.00" x2="413.80" y2="417.70" stroke="#1010d8" stroke-width="0.9"/><line x1="412.40" y1="392.00" x2="415.20" y2="392.00" stroke="#1010d8" stroke-width="0.9"/><line x1="412.40" y1="417.70" x2="415.20" y2="417.70" stroke="#1010d8" stroke-width="0.9"/>
<line x1="347.30" y1="374.00" x2="347.30" y2="389.60" stroke="#1010d8" stroke-width="0.9"/><line x1="345.90" y1="374.00" x2="348.70" y2="374.00" stroke="#1010d8" stroke-width="0.9"/><line x1="345.90" y1="389.60" x2="348.70" y2="389.60" stroke="#1010d8" stroke-width="0.9"/>
<line x1="480.30" y1="404.50" x2="480.30" y2="421.50" stroke="#d0202a" stroke-width="0.9"/><line x1="478.90" y1="404.50" x2="481.70" y2="404.50" stroke="#d0202a" stroke-width="0.9"/><line x1="478.90" y1="421.50" x2="481.70" y2="421.50" stroke="#d0202a" stroke-width="0.9"/>
<line x1="480.30" y1="420.00" x2="480.30" y2="438.00" stroke="#1010d8" stroke-width="0.9"/><line x1="478.90" y1="420.00" x2="481.70" y2="420.00" stroke="#1010d8" stroke-width="0.9"/><line x1="478.90" y1="438.00" x2="481.70" y2="438.00" stroke="#1010d8" stroke-width="0.9"/>
<line x1="480.30" y1="437.00" x2="480.30" y2="453.00" stroke="#8a1ad8" stroke-width="0.9"/><line x1="478.90" y1="437.00" x2="481.70" y2="437.00" stroke="#8a1ad8" stroke-width="0.9"/><line x1="478.90" y1="453.00" x2="481.70" y2="453.00" stroke="#8a1ad8" stroke-width="0.9"/>
<line x1="480.30" y1="450.00" x2="480.30" y2="471.50" stroke="#000" stroke-width="0.9"/><line x1="478.90" y1="450.00" x2="481.70" y2="450.00" stroke="#000" stroke-width="0.9"/><line x1="478.90" y1="471.50" x2="481.70" y2="471.50" stroke="#000" stroke-width="0.9"/>
<path d="M347.3,381.9 L413.8,426.2 L480.3,457.2" fill="none" stroke="#000" stroke-width="1.9" stroke-linejoin="round"/>
<path d="M347.3,381.9 L413.8,405.0 L480.3,413.2" fill="none" stroke="#d0202a" stroke-width="1.3" stroke-linejoin="round"/>
<path d="M347.3,381.9 L413.8,402.0 L480.3,429.0" fill="none" stroke="#1010d8" stroke-width="1.7" stroke-linejoin="round"/>
<circle cx="413.8" cy="426.2" r="2.2" fill="#000"/>
<circle cx="480.3" cy="457.2" r="2.2" fill="#000"/>
<circle cx="413.8" cy="405.0" r="1.6" fill="#d0202a"/>
<circle cx="480.3" cy="413.2" r="1.6" fill="#d0202a"/>
<rect x="345.20" y="379.80" width="4.2" height="4.2" fill="#1010d8"/>
<rect x="411.70" y="399.90" width="4.2" height="4.2" fill="#1010d8"/>
<rect x="478.20" y="426.90" width="4.2" height="4.2" fill="#1010d8"/>
<rect x="478.20" y="443.30" width="4.2" height="4.2" fill="#8a1ad8"/>
<g stroke="#1010d8" stroke-width="1.6"><line x1="488.1" y1="422.2" x2="488.1" y2="437"/><line x1="483.3" y1="426.5" x2="492.90000000000003" y2="426.5"/><line x1="483.3" y1="435" x2="492.90000000000003" y2="435"/></g>
<g stroke="#8a1ad8" stroke-width="1.6"><line x1="488.1" y1="439.3" x2="488.1" y2="454.6"/><line x1="483.3" y1="442" x2="492.90000000000003" y2="442"/><line x1="483.3" y1="450.6" x2="492.90000000000003" y2="450.6"/></g>
<g stroke="#000" stroke-width="1.6"><line x1="480.8" y1="470" x2="480.8" y2="487.6"/><line x1="476.0" y1="474.5" x2="485.6" y2="474.5"/><line x1="476.0" y1="483.3" x2="485.6" y2="483.3"/></g>
<path d="M478.8,394.6 L478.80,391.40 M478.8,394.6 L481.84,393.61 M478.8,394.6 L480.68,397.19 M478.8,394.6 L476.92,397.19 M478.8,394.6 L475.76,393.61 " stroke="#d0202a" stroke-width="1.25" stroke-linecap="round" fill="none"/>
<path d="M413.6,438.4 L413.60,435.10 M413.6,438.4 L416.74,437.38 M413.6,438.4 L415.54,441.07 M413.6,438.4 L411.66,441.07 M413.6,438.4 L410.46,437.38 " stroke="#000" stroke-width="1.25" stroke-linecap="round" fill="none"/>
<line x1="342.7" y1="460.5" x2="356.5" y2="460.5" stroke="#000" stroke-width="1.1"/>
<circle cx="350" cy="460.5" r="1.7" fill="#000"/>
<text x="358.8" y="464.0" font-size="9.85" font-weight="bold" font-style="normal" text-anchor="start" fill="#000" >NSC23766</text>
<line x1="342.7" y1="473.2" x2="356.5" y2="473.2" stroke="#d0202a" stroke-width="1.1"/>
<circle cx="350" cy="473.2" r="1.3" fill="#d0202a"/>
<text x="358.8" y="476.7" font-size="9.85" font-weight="bold" font-style="normal" text-anchor="start" fill="#d0202a" >Cytochalasin-D</text>
<line x1="342.7" y1="485.6" x2="356.5" y2="485.6" stroke="#1010d8" stroke-width="1.1"/>
<rect x="348.3" y="483.90000000000003" width="3.4" height="3.4" fill="#1010d8"/>
<text x="358.8" y="489.1" font-size="9.85" font-weight="bold" font-style="normal" text-anchor="start" fill="#1010d8" >Filipin</text>
<rect x="348.3" y="496.8" width="3.4" height="3.4" fill="#8a1ad8"/>
<text x="358.8" y="502.0" font-size="9.85" font-weight="bold" font-style="normal" text-anchor="start" fill="#8a1ad8" >cytochalasin-D + filipin</text>
</svg>
</body></html>
